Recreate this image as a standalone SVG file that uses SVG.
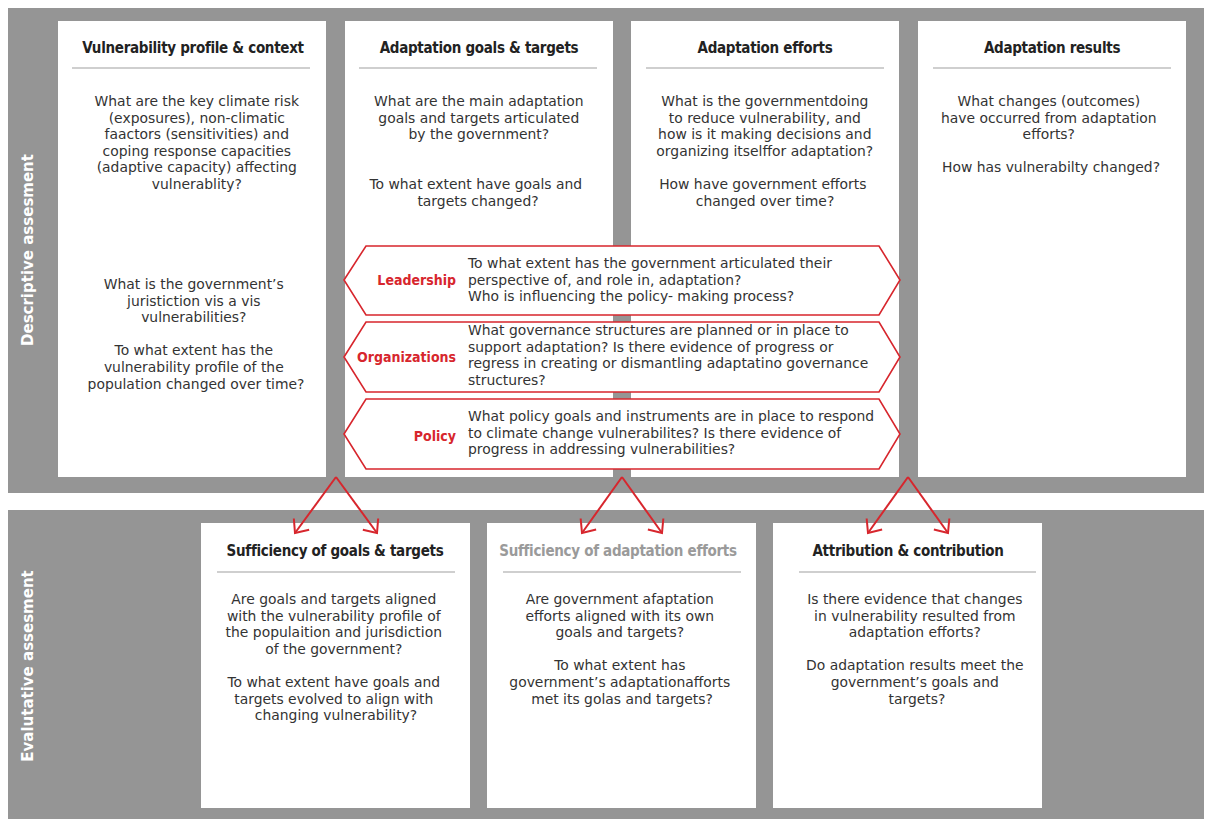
<svg xmlns="http://www.w3.org/2000/svg" width="1207" height="819" viewBox="0 0 1207 819">
<defs>
<style>
.band{fill:#959595}
.box{fill:#ffffff}
.title{font-family:"DejaVu Sans Condensed","Liberation Sans Narrow","Liberation Sans",sans-serif;font-weight:bold;font-size:15px;letter-spacing:-0.3px;fill:#222;text-anchor:middle}
.gtitle{fill:#9a9a9a}
.rule{stroke:#a0a0a0;stroke-width:1.2}
.body{font-family:"DejaVu Sans","Liberation Sans",sans-serif;font-size:13.9px;fill:#333;text-anchor:middle}
.hbody{font-family:"DejaVu Sans","Liberation Sans",sans-serif;font-size:13.9px;fill:#333}
.hex{fill:#fff;stroke:#d7262d;stroke-width:1.6}
.hlabel{font-family:"DejaVu Sans Condensed","Liberation Sans",sans-serif;font-weight:bold;font-size:14px;fill:#d7262d;text-anchor:end}
.side{font-family:"DejaVu Sans","Liberation Sans",sans-serif;font-weight:bold;font-size:15px;fill:#fff;text-anchor:middle}
.arrow{fill:none;stroke:#d7262d;stroke-width:2;marker-end:url(#head)}
</style>
<marker id="head" markerUnits="userSpaceOnUse" viewBox="-16 -14 20 28" refX="0" refY="0" markerWidth="20" markerHeight="28" orient="auto">
<path d="M-11,-9.5 L0,0 L-11,9.5" fill="none" stroke="#d7262d" stroke-width="2"/>
</marker>
</defs>

<rect class="band" x="8" y="8" width="1196" height="485"/>
<rect class="band" x="8" y="510" width="1196" height="309"/>
<text class="side" transform="translate(33,250) rotate(-90)">Descriptive assesment</text>
<text class="side" transform="translate(33,666) rotate(-90)">Evalutative assesment</text>

<g id="vulnerability-profile">
<rect class="box" x="58" y="21" width="268" height="456"/>
<text class="title" x="193" y="53">Vulnerability profile &amp; context</text>
<line class="rule" x1="72" y1="68" x2="310" y2="68"/>
<text class="body">
<tspan x="199" y="106">What are the key climate risk</tspan>
<tspan x="199" y="122.6">(exposures), non-climatic</tspan>
<tspan x="199" y="139.2">faactors (sensitivities) and</tspan>
<tspan x="199" y="155.8">coping response capacities</tspan>
<tspan x="199" y="172.4">(adaptive capacity) affecting</tspan>
<tspan x="199" y="189">vulnerablity?</tspan>
<tspan x="196" y="289">What is the government’s</tspan>
<tspan x="196" y="305.6">juristiction vis a vis</tspan>
<tspan x="196" y="322.2">vulnerabilities?</tspan>
<tspan x="196" y="355.4">To what extent has the</tspan>
<tspan x="196" y="372">vulnerability profile of the</tspan>
<tspan x="196" y="388.6">population changed over time?</tspan>
</text>
</g>

<g id="adaptation-goals">
<rect class="box" x="345" y="21" width="268" height="456"/>
<text class="title" x="479" y="53">Adaptation goals &amp; targets</text>
<line class="rule" x1="359" y1="68" x2="597" y2="68"/>
<text class="body">
<tspan x="481" y="106">What are the main adaptation</tspan>
<tspan x="481" y="122.6">goals and targets articulated</tspan>
<tspan x="481" y="139.2">by the government?</tspan>
<tspan x="478" y="189">To what extent have goals and</tspan>
<tspan x="478" y="205.6">targets changed?</tspan>
</text>
</g>

<g id="adaptation-efforts">
<rect class="box" x="631" y="21" width="268" height="456"/>
<text class="title" x="765" y="53">Adaptation efforts</text>
<line class="rule" x1="646" y1="68" x2="884" y2="68"/>
<text class="body">
<tspan x="767" y="106">What is the governmentdoing</tspan>
<tspan x="767" y="122.6">to reduce vulnerability, and</tspan>
<tspan x="767" y="139.2">how is it making decisions and</tspan>
<tspan x="767" y="155.8">organizing itselffor adaptation?</tspan>
<tspan x="765" y="189">How have government efforts</tspan>
<tspan x="765" y="205.6">changed over time?</tspan>
</text>
</g>

<g id="adaptation-results">
<rect class="box" x="918" y="21" width="268" height="456"/>
<text class="title" x="1052" y="53">Adaptation results</text>
<line class="rule" x1="933" y1="68" x2="1171" y2="68"/>
<text class="body">
<tspan x="1051" y="106">What changes (outcomes)</tspan>
<tspan x="1051" y="122.6">have occurred from adaptation</tspan>
<tspan x="1051" y="139.2">efforts?</tspan>
<tspan x="1051" y="172.4">How has vulnerabilty changed?</tspan>
</text>
</g>

<g id="leadership">
<polygon class="hex" points="344,280 366,246 879,246 900,280 879,315 366,315"/>
<text class="hlabel" x="456" y="285">Leadership</text>
<text class="hbody">
<tspan x="468" y="268">To what extent has the government articulated their</tspan>
<tspan x="468" y="284.6">perspective of, and role in, adaptation?</tspan>
<tspan x="468" y="301.2">Who is influencing the policy- making process?</tspan>
</text>
</g>

<g id="organizations">
<polygon class="hex" points="344,357 366,322 879,322 900,357 879,392 366,392"/>
<text class="hlabel" x="456" y="362">Organizations</text>
<text class="hbody">
<tspan x="468" y="335">What governance structures are planned or in place to</tspan>
<tspan x="468" y="351.6">support adaptation? Is there evidence of progress or</tspan>
<tspan x="468" y="368.2">regress in creating or dismantling adaptatino governance</tspan>
<tspan x="468" y="384.8">structures?</tspan>
</text>
</g>

<g id="policy">
<polygon class="hex" points="344,434 366,399 879,399 900,434 879,469 366,469"/>
<text class="hlabel" x="456" y="441">Policy</text>
<text class="hbody">
<tspan x="468" y="421">What policy goals and instruments are in place to respond</tspan>
<tspan x="468" y="437.6">to climate change vulnerabilites? Is there evidence of</tspan>
<tspan x="468" y="454.2">progress in addressing vulnerabilities?</tspan>
</text>
</g>

<g id="sufficiency-goals">
<rect class="box" x="201" y="523" width="269" height="285"/>
<text class="title" x="335" y="556">Sufficiency of goals &amp; targets</text>
<line class="rule" x1="217" y1="572" x2="455" y2="572"/>
<text class="body">
<tspan x="336" y="604">Are goals and targets aligned</tspan>
<tspan x="336" y="620.6">with the vulnerability profile of</tspan>
<tspan x="336" y="637.2">the populaition and jurisdiction</tspan>
<tspan x="336" y="653.8">of the government?</tspan>
<tspan x="336" y="687">To what extent have goals and</tspan>
<tspan x="336" y="703.6">targets evolved to align with</tspan>
<tspan x="336" y="720.2">changing vulnerability?</tspan>
</text>
</g>

<g id="sufficiency-efforts">
<rect class="box" x="487" y="523" width="269" height="285"/>
<text class="title gtitle" x="618" y="556">Sufficiency of adaptation efforts</text>
<line class="rule" x1="503" y1="572" x2="741" y2="572"/>
<text class="body">
<tspan x="622" y="604">Are government afaptation</tspan>
<tspan x="622" y="620.6">efforts aligned with its own</tspan>
<tspan x="622" y="637.2">goals and targets?</tspan>
<tspan x="622" y="670.4">To what extent has</tspan>
<tspan x="622" y="687">government’s adaptationafforts</tspan>
<tspan x="622" y="703.6">met its golas and targets?</tspan>
</text>
</g>

<g id="attribution">
<rect class="box" x="773" y="523" width="269" height="285"/>
<text class="title" x="908" y="556">Attribution &amp; contribution</text>
<line class="rule" x1="799" y1="572" x2="1036" y2="572"/>
<text class="body">
<tspan x="917" y="604">Is there evidence that changes</tspan>
<tspan x="917" y="620.6">in vulnerability resulted from</tspan>
<tspan x="917" y="637.2">adaptation efforts?</tspan>
<tspan x="917" y="670.4">Do adaptation results meet the</tspan>
<tspan x="917" y="687">government’s goals and</tspan>
<tspan x="917" y="703.6">targets?</tspan>
</text>
</g>

<g id="connectors">
<polyline class="arrow" points="336,477 295,533"/>
<polyline class="arrow" points="336,477 377,533"/>
<polyline class="arrow" points="622,477 582,533"/>
<polyline class="arrow" points="622,477 662,533"/>
<polyline class="arrow" points="908,477 868,533"/>
<polyline class="arrow" points="908,477 948,533"/>
</g>
</svg>
